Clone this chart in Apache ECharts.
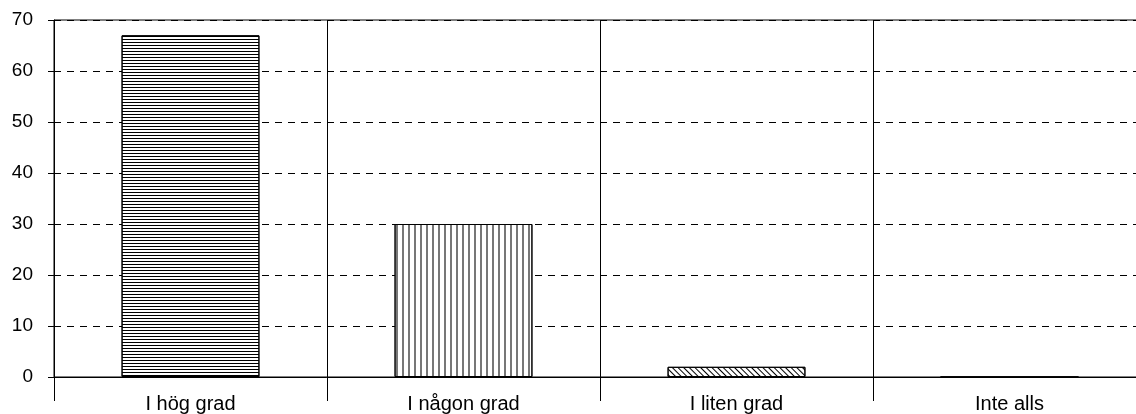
<!DOCTYPE html>
<html>
<head>
<meta charset="utf-8">
<script src="https://cdn.jsdelivr.net/npm/echarts@6/dist/echarts.min.js"></script>
<style>
    html, body { margin: 0; padding: 0; background: #fff; overflow: hidden; }
    /* plot runs past the right edge of the window, as in the original */
    #chart { width: 1146px; height: 414px; }
</style>
</head>
<body>
<div id="chart"></div>
<script>
    // data
    let categories = ['I hög grad', 'I någon grad', 'I liten grad', 'Inte alls']
    let values = [67, 30, 2, 0]
    let yTicks = [0, 10, 20, 30, 40, 50, 60, 70]

    // one fill pattern per bar
    let decals = [
        {symbol: 'rect', symbolSize: 1, dashArrayX: [1, 0], dashArrayY: [1, 2], color: '#000'},
        {symbol: 'rect', symbolSize: 1, dashArrayX: [2, 4], dashArrayY: [1, 0], color: '#777'},
        {symbol: 'rect', symbolSize: 1, dashArrayX: [1, 0], dashArrayY: [1, 3], rotation: Math.PI / 4, color: '#000'},
        {symbol: 'rect', symbolSize: 1, dashArrayX: [1, 0], dashArrayY: [1, 2], color: '#000'},
    ]

    let seriesData = values.map((v, i) => ({
        value: v,
        itemStyle: {
            color: '#fff',
            borderColor: '#000',
            borderWidth: 1,
            decal: decals[i],
        },
    }))

    let option = {
        animation: false,
        textStyle: {fontFamily: 'Liberation Sans, Arial, sans-serif'},
        grid: {
            left: 54,
            right: 0,
            top: 20,
            bottom: 36,
            show: true,
            borderColor: '#000',
            borderWidth: 1,
        },
        xAxis: {
            type: 'category',
            data: categories,
            axisLine: {lineStyle: {color: '#000', width: 1}},
            axisTick: {show: true, length: 24, lineStyle: {color: '#000'}},
            splitLine: {show: true, lineStyle: {color: '#000', width: 1}},
            axisLabel: {color: '#000', fontSize: 20, margin: 17},
        },
        yAxis: {
            type: 'value',
            min: yTicks[0],
            max: yTicks[yTicks.length - 1],
            interval: 10,
            axisLine: {show: true, lineStyle: {color: '#000', width: 1}},
            axisTick: {show: true, length: 6, lineStyle: {color: '#000'}},
            splitLine: {show: true, lineStyle: {color: '#000', width: 1, type: [7, 6]}},
            axisLabel: {color: '#000', fontSize: 19, margin: 21},
        },
        series: [
            {
                type: 'bar',
                barWidth: '50.5%',
                data: seriesData,
            },
        ],
    }

    let myChart = echarts.init(document.getElementById('chart'))
    myChart.setOption(option)
</script>
</body>
</html>
